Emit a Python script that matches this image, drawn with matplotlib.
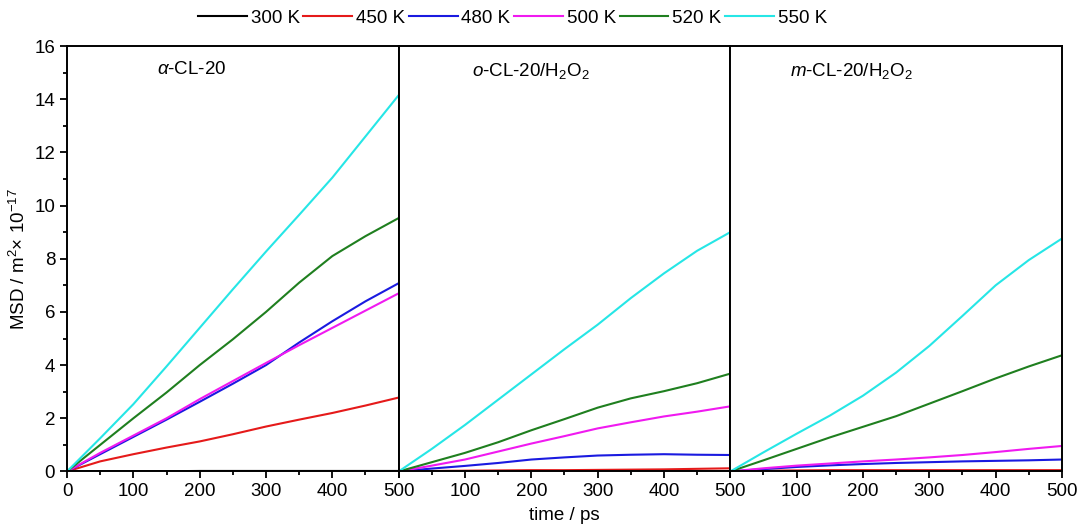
import matplotlib
matplotlib.use("Agg")
import matplotlib.pyplot as plt
from matplotlib.ticker import MultipleLocator, FixedLocator

plt.rcParams['font.family'] = ['Liberation Sans', 'DejaVu Sans']
plt.rcParams['mathtext.fontset'] = 'custom'
plt.rcParams['mathtext.rm'] = 'Liberation Sans'
plt.rcParams['mathtext.it'] = 'Liberation Sans:italic'

# ---------------- data ----------------
time_ps = [0, 50, 100, 150, 200, 250, 300, 350, 400, 450, 500]
temps = ["300 K", "450 K", "480 K", "500 K", "520 K", "550 K"]
colors = ["black", "#e51a1a", "#1a1ae0", "#f01af0", "#1f7f1f", "#26e6e6"]

# MSD (m^2 x 10^-17), one row per temperature
msd_alpha = [
    [0, 0.01, 0.01, 0.01, 0.02, 0.02, 0.02, 0.02, 0.02, 0.02, 0.02],
    [0, 0.38, 0.65, 0.90, 1.13, 1.40, 1.69, 1.95, 2.20, 2.48, 2.78],
    [0, 0.65, 1.30, 1.95, 2.62, 3.30, 4.00, 4.85, 5.65, 6.40, 7.08],
    [0, 0.70, 1.35, 2.00, 2.72, 3.40, 4.08, 4.75, 5.40, 6.05, 6.70],
    [0, 1.00, 2.00, 2.97, 4.00, 4.97, 6.00, 7.10, 8.10, 8.85, 9.53],
    [0, 1.25, 2.53, 3.95, 5.40, 6.85, 8.27, 9.65, 11.05, 12.60, 14.15],
]
msd_ortho = [
    [0, 0.01, 0.01, 0.01, 0.01, 0.01, 0.01, 0.01, 0.01, 0.01, 0.01],
    [0, 0.02, 0.03, 0.04, 0.05, 0.05, 0.06, 0.07, 0.08, 0.10, 0.12],
    [0, 0.11, 0.21, 0.32, 0.45, 0.53, 0.60, 0.63, 0.65, 0.63, 0.62],
    [0, 0.22, 0.45, 0.75, 1.05, 1.33, 1.62, 1.85, 2.07, 2.25, 2.45],
    [0, 0.35, 0.70, 1.10, 1.55, 1.97, 2.40, 2.75, 3.02, 3.32, 3.68],
    [0, 0.85, 1.75, 2.70, 3.65, 4.60, 5.52, 6.52, 7.45, 8.30, 9.00],
]
msd_mono = [
    [0, 0.01, 0.01, 0.01, 0.01, 0.01, 0.01, 0.01, 0.01, 0.01, 0.01],
    [0, 0.03, 0.04, 0.05, 0.05, 0.05, 0.05, 0.05, 0.05, 0.05, 0.05],
    [0, 0.09, 0.17, 0.23, 0.28, 0.32, 0.35, 0.38, 0.40, 0.42, 0.45],
    [0, 0.12, 0.22, 0.30, 0.38, 0.45, 0.53, 0.62, 0.73, 0.85, 0.96],
    [0, 0.42, 0.85, 1.28, 1.68, 2.08, 2.55, 3.02, 3.50, 3.95, 4.37],
    [0, 0.72, 1.42, 2.10, 2.85, 3.72, 4.72, 5.85, 7.00, 7.95, 8.76],
]
panel_titles = [r"$\mathit{\alpha}$-CL-20",
                r"$\mathit{o}$-CL-20/H$_2$O$_2$",
                r"$\mathit{m}$-CL-20/H$_2$O$_2$"]
title_x = [0.27, 0.22, 0.18]

# ---------------- plot ----------------
fig = plt.figure(figsize=(10.79, 5.30), dpi=100)
gs = fig.add_gridspec(1, 3, left=0.0621, right=0.9842, bottom=0.1104, top=0.9132, wspace=0)
axes = [fig.add_subplot(gs[0, i]) for i in range(3)]

for k, (ax, data) in enumerate(zip(axes, [msd_alpha, msd_ortho, msd_mono])):
    for vals, lab, c in zip(data, temps, colors):
        ax.plot(time_ps, vals, color=c, lw=1.5, label=lab)
    ax.set_xlim(0, 500)
    ax.set_ylim(0, 16)
    for sp in ax.spines.values():
        sp.set_linewidth(1.4)
    ax.xaxis.set_major_locator(FixedLocator([0, 100, 200, 300, 400, 500]))
    ax.xaxis.set_minor_locator(MultipleLocator(50))
    ax.tick_params(axis='both', which='major', direction='out', length=5, width=1.3,
                   labelsize=13.5, top=False, right=False)
    ax.tick_params(axis='both', which='minor', direction='out', length=3, width=1.3,
                   top=False, right=False)
    if k == 0:
        ax.yaxis.set_major_locator(MultipleLocator(2))
        ax.yaxis.set_minor_locator(MultipleLocator(1))
        ax.set_xticklabels(["0", "100", "200", "300", "400", "500"])
    else:
        ax.tick_params(axis='y', which='both', left=False, labelleft=False)
        ax.set_xticklabels(["", "100", "200", "300", "400", "500"])
    ax.text(title_x[k], 0.965, panel_titles[k], transform=ax.transAxes,
            fontsize=13.5, ha='left', va='top')

axes[0].set_ylabel(r"MSD / m$^2$× 10$^{-17}$", fontsize=13.5, labelpad=4)
fig.text(0.523, 0.012, "time / ps", fontsize=13.5, ha='center', va='bottom')

handles, labels = axes[0].get_legend_handles_labels()
fig.legend(handles, labels, loc='center', bbox_to_anchor=(0.475, 0.966), ncol=6,
           frameon=False, fontsize=13.5, handlelength=2.6, handletextpad=0.2,
           columnspacing=0.2)

fig.savefig("out.png", dpi=100)
